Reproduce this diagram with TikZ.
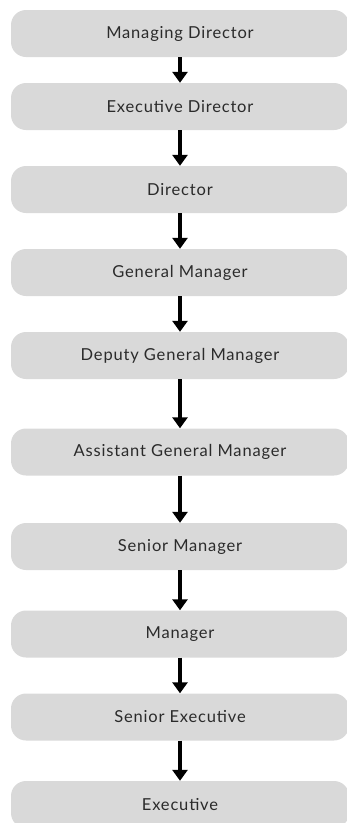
\documentclass[tikz,border=0pt]{standalone}
\usepackage{fontspec}
\setmainfont[LetterSpace=5]{Lato}
\usetikzlibrary{positioning}
\usetikzlibrary{arrows.meta}
\definecolor{boxgray}{HTML}{D9D9D9}
\definecolor{textgray}{HTML}{2B2B2B}
\tikzset{
    x=1pt, y=1pt,
    node distance=83pt,
    level/.style={
        fill=boxgray,
        rounded corners=15pt,
        minimum width=338pt,
        minimum height=47pt,
        text=textgray,
        font=\fontsize{16.5}{19}\selectfont
    },
    every edge/.append style={
        draw,
        -{Triangle[width=15pt,length=11pt]},
        line width=3.5pt
    }
}
\begin{document}
\begin{tikzpicture}
    \useasboundingbox (0,0) rectangle (347,-823);
    \node[level] (md) at (180,-33.5) {Managing Director};
    \node[level, below of = md, yshift=10pt] (ed) {Executive Director};
    \node[level, below of = ed] (dir) {Director};
    \node[level, below of = dir] (gm) {General Manager};
    \node[level, below of = gm] (dgm) {Deputy General Manager};
    \node[level, below of = dgm, yshift=-13.5pt] (agm) {Assistant General Manager};
    \node[level, below of = agm, yshift=-11.5pt] (sm) {Senior Manager};
    \node[level, below of = sm, yshift=-4.5pt] (man) {Manager};
    \node[level, below of = man] (se) {Senior Executive};
    \node[level, below of = se, yshift=-4.5pt] (ex) {Executive};

    \draw (md) edge (ed);
    \draw (ed) edge (dir);
    \draw (dir) edge (gm);
    \draw (gm) edge (dgm);
    \draw (dgm) edge (agm);
    \draw (agm) edge (sm);
    \draw (sm) edge (man);
    \draw (man) edge (se);
    \draw (se) edge (ex);
\end{tikzpicture}
\end{document}
